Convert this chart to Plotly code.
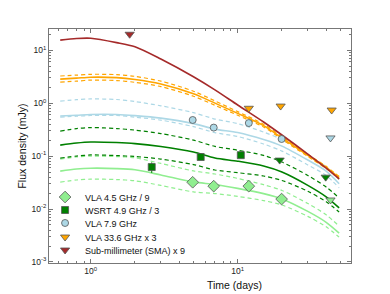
import plotly.graph_objects as go

# ---------------- data ----------------
t_model = [0.62, 0.8, 1.0, 1.5, 2, 3, 5, 7, 10, 15, 20, 30, 40, 49]

sma_model = [15.5, 16.6, 16.8, 13.9, 11.6, 6.8, 3.15, 1.78, 0.92, 0.44, 0.25, 0.109, 0.059, 0.037]

vla336_model = [2.84, 2.96, 3.09, 3.03, 2.8, 2.3, 1.5, 1.0, 0.64, 0.376, 0.22, 0.103, 0.061, 0.039]
vla336_hi = [3.25, 3.38, 3.5, 3.45, 3.2, 2.6, 1.68, 1.1, 0.69, 0.40, 0.232, 0.108, 0.064, 0.041]
vla336_lo = [2.5, 2.6, 2.72, 2.67, 2.47, 2.05, 1.35, 0.91, 0.59, 0.353, 0.208, 0.098, 0.058, 0.037]

vla79_model = [0.57, 0.59, 0.61, 0.61, 0.58, 0.52, 0.41, 0.323, 0.278, 0.205, 0.154, 0.084, 0.052, 0.030]
vla79_hi = [1.09, 1.16, 1.20, 1.17, 1.07, 0.89, 0.66, 0.50, 0.41, 0.284, 0.204, 0.104, 0.063, 0.036]
vla79_lo = [0.545, 0.565, 0.584, 0.584, 0.543, 0.477, 0.36, 0.277, 0.234, 0.169, 0.124, 0.068, 0.043, 0.025]

wsrt_model = [0.161, 0.176, 0.184, 0.18, 0.172, 0.151, 0.119, 0.092, 0.080, 0.065, 0.050, 0.028, 0.017, 0.0105]
wsrt_hi = [0.296, 0.330, 0.345, 0.331, 0.309, 0.266, 0.200, 0.152, 0.129, 0.103, 0.077, 0.043, 0.026, 0.0162]
wsrt_lo = [0.0916, 0.100, 0.105, 0.102, 0.098, 0.0877, 0.0691, 0.0546, 0.0485, 0.042, 0.0346, 0.0216, 0.0137, 0.0088]

vla45_model = [0.052, 0.057, 0.059, 0.058, 0.055, 0.044, 0.0325, 0.029, 0.0245, 0.0195, 0.0155, 0.0090, 0.0056, 0.0035]
vla45_hi = [0.0876, 0.096, 0.0994, 0.0977, 0.0926, 0.0725, 0.0524, 0.0458, 0.0378, 0.0288, 0.0224, 0.0127, 0.00776, 0.00474]
vla45_lo = [0.0322, 0.0353, 0.0366, 0.036, 0.0341, 0.0279, 0.021, 0.0196, 0.0173, 0.0144, 0.0119, 0.00725, 0.0046, 0.00294]

# observations
vla45_t = [4.94, 6.87, 11.9, 19.9]
vla45_f = [0.032, 0.027, 0.027, 0.0154]
vla45_ul_t = [42.8]
vla45_ul_f = [0.0148]

wsrt_t = [2.6, 5.6, 10.5]
wsrt_f = [0.062, 0.096, 0.104]
wsrt_err = [0.014, 0.005, 0.005]
wsrt_ul_t = [19.3, 39.7]
wsrt_ul_f = [0.084, 0.040]

vla79_t = [4.94, 6.87, 11.9, 19.9]
vla79_f = [0.48, 0.345, 0.42, 0.21]
vla79_ul_t = [42.8]
vla79_ul_f = [0.22]

vla336_ul_t = [11.9, 19.6, 43.6]
vla336_ul_f = [0.80, 0.88, 0.74]

sma_ul_t = [1.84]
sma_ul_f = [20.0]

legend_names = ["VLA 4.5 GHz / 9", "WSRT 4.9 GHz / 3", "VLA 7.9 GHz",
                "VLA 33.6 GHz x 3", "Sub-millimeter (SMA) x 9"]

# ---------------- colours ----------------
C_RED = "#A52A2A"
C_ORANGE = "#FFA500"
C_LBLUE = "#ADD8E6"
C_GREEN = "#008000"
C_LGREEN = "#90EE90"
EDGE = "#555555"

fig = go.Figure()

def line(y, color, dash=None, width=1.5):
    fig.add_trace(go.Scatter(
        x=t_model, y=y, mode="lines", showlegend=False, hoverinfo="skip",
        line=dict(color=color, width=width, dash=dash or "solid", shape="spline", smoothing=0.8)))

DASH = "4px,3px"
for hi, lo, mid, col in [(vla45_hi, vla45_lo, vla45_model, C_LGREEN),
                         (wsrt_hi, wsrt_lo, wsrt_model, C_GREEN),
                         (vla79_hi, vla79_lo, vla79_model, C_LBLUE),
                         (vla336_hi, vla336_lo, vla336_model, C_ORANGE)]:
    line(hi, col, DASH, 1.2)
    line(lo, col, DASH, 1.2)
    line(mid, col, None, 1.6)
line(sma_model, C_RED, None, 1.6)

mk_line = dict(color=EDGE, width=0.8)

# VLA 4.5
fig.add_trace(go.Scatter(x=vla45_t, y=vla45_f, mode="markers", name=legend_names[0], legend="legend",
                         marker=dict(symbol="diamond", size=9, color=C_LGREEN, line=mk_line)))
fig.add_trace(go.Scatter(x=vla45_ul_t, y=vla45_ul_f, mode="markers", showlegend=False,
                         marker=dict(symbol="triangle-down", size=8, color=C_LGREEN, line=mk_line)))
# WSRT
fig.add_trace(go.Scatter(x=wsrt_t, y=wsrt_f, mode="markers", name=legend_names[1], legend="legend2",
                         error_y=dict(type="data", array=wsrt_err, color=C_GREEN, thickness=1, width=0),
                         marker=dict(symbol="square", size=7, color=C_GREEN, line=mk_line)))
fig.add_trace(go.Scatter(x=wsrt_ul_t, y=wsrt_ul_f, mode="markers", showlegend=False,
                         marker=dict(symbol="triangle-down", size=8, color=C_GREEN, line=mk_line)))
# VLA 7.9
fig.add_trace(go.Scatter(x=vla79_t, y=vla79_f, mode="markers", name=legend_names[2], legend="legend3",
                         marker=dict(symbol="circle", size=7, color=C_LBLUE, line=mk_line)))
fig.add_trace(go.Scatter(x=vla79_ul_t, y=vla79_ul_f, mode="markers", showlegend=False,
                         marker=dict(symbol="triangle-down", size=8, color=C_LBLUE, line=mk_line)))
# VLA 33.6
fig.add_trace(go.Scatter(x=vla336_ul_t, y=vla336_ul_f, mode="markers", name=legend_names[3], legend="legend4",
                         marker=dict(symbol="triangle-down", size=8, color=C_ORANGE, line=mk_line)))
# SMA
fig.add_trace(go.Scatter(x=sma_ul_t, y=sma_ul_f, mode="markers", name=legend_names[4], legend="legend5",
                         marker=dict(symbol="triangle-down", size=8, color=C_RED, line=mk_line)))

AX = "#777777"
FONT = "Liberation Sans, Arial, sans-serif"

def minor_vals(lo, hi):
    v = []
    for k in range(lo, hi + 1):
        for m in range(2, 10):
            v.append(m * 10.0 ** k)
    return v

fig.update_xaxes(type="log", range=[-0.284, 1.771], showline=True, linecolor=AX, linewidth=1.2,
                 mirror="ticks", ticks="inside", ticklen=4, tickcolor=AX, tickwidth=1,
                 tickvals=[1, 10], ticktext=["10<sup>0</sup>", "10<sup>1</sup>"],
                 tickfont=dict(size=8.5, color="#222", family=FONT),
                 minor=dict(ticks="inside", ticklen=2, tickcolor=AX, tickvals=minor_vals(-1, 1)),
                 showgrid=False, zeroline=False)
fig.update_yaxes(type="log", range=[-3.02, 1.40], showline=True, linecolor=AX, linewidth=1.2,
                 mirror="ticks", ticks="inside", ticklen=4, tickcolor=AX, tickwidth=1,
                 tickvals=[1e-3, 1e-2, 1e-1, 1, 10],
                 ticktext=["10<sup>-3</sup>", "10<sup>-2</sup>", "10<sup>-1</sup>", "10<sup>0</sup>", "10<sup>1</sup>"],
                 tickfont=dict(size=8.5, color="#222", family=FONT),
                 minor=dict(ticks="inside", ticklen=2, tickcolor=AX, tickvals=minor_vals(-3, 1)),
                 title=dict(text="Flux density (mJy)", font=dict(size=10.5, color="#111", family=FONT), standoff=2),
                 showgrid=False, zeroline=False)

fig.add_annotation(text="Time (days)", xref="paper", yref="paper", x=0.613, y=-0.058,
                   xanchor="center", yanchor="top", showarrow=False,
                   font=dict(size=10.5, color="#111", family=FONT))

# legend rows (pixel centres 197, 210, 223, 237, 250 within the plot area)
row_y = [0.282, 0.2265, 0.171, 0.111, 0.0556]
leg_common = dict(x=-0.013, xanchor="left", yanchor="middle", bgcolor="rgba(0,0,0,0)",
                  font=dict(size=9, family=FONT, color="#111"), itemwidth=30)
layout_legends = {}
for i, yy in enumerate(row_y):
    key = "legend" if i == 0 else f"legend{i + 1}"
    layout_legends[key] = dict(y=yy, **leg_common)

# the page body adds an 8px offset, so the figure is 8px smaller on each axis
fig.update_layout(
    width=382, height=286,
    margin=dict(l=41, r=39, t=21, b=31, autoexpand=False),
    paper_bgcolor="white", plot_bgcolor="white",
    font=dict(family=FONT, size=9, color="#111"),
    **layout_legends,
)

fig.write_html("out.html")
